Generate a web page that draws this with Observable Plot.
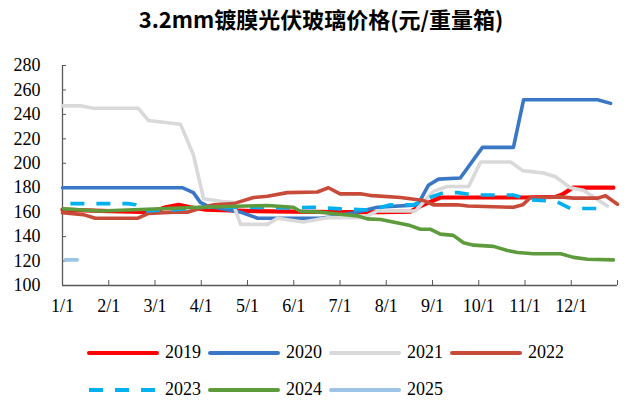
<!DOCTYPE html>
<html>
<head>
<meta charset="utf-8">
<script src="https://cdn.jsdelivr.net/npm/d3@7"></script>
<script src="https://cdn.jsdelivr.net/npm/@observablehq/plot@0.6"></script>
<style>
  html, body { margin: 0; padding: 0; background: #fff; }
  #wrap { position: relative; width: 629px; height: 400px; overflow: hidden; }
  #title { position: absolute; left: 0; top: 4px; width: 642px; text-align: center;
    font-family: "Noto Sans CJK SC", sans-serif; font-weight: bold; font-size: 22px; line-height: 28px; color: #000; }
  #chart { position: absolute; left: 0; top: 35px; }
  #legend { position: absolute; left: 87px; top: 334px; font-family: "Liberation Serif", "Times New Roman", serif; font-size: 18px; color: #000; }
  .row { display: flex; height: 37px; align-items: center; }
  .item { display: flex; align-items: center; width: 121px; }
  .item span { margin-left: 6px; }
</style>
</head>
<body>
<div id="wrap">
  <div id="title">3.2mm镀膜光伏玻璃价格(元/重量箱)</div>
  <div id="chart"></div>
  <div id="legend"></div>
</div>
<script>
// x = months since 1/1 (0 = 1/1, 11 = 12/1), y = price (元/重量箱)
const years = ["2019", "2020", "2021", "2022", "2023", "2024", "2025"];
const colors = ["#FF0000", "#3A78C6", "#D9D9D9", "#C84B3A", "#00B0F0", "#5E9B3C", "#9DC3E6"];
const monthTicks = [0, 1, 2, 3, 4, 5, 6, 7, 8, 9, 10, 11, 12];
const monthLabels = ["1/1", "2/1", "3/1", "4/1", "5/1", "6/1", "7/1", "8/1", "9/1", "10/1", "11/1", "12/1", ""];
const yTicks = [100, 120, 140, 160, 180, 200, 220, 240, 260, 280];

const s2019 = [[0,162],[0.82,161],[1.92,160],[2.23,164],[2.51,166],[2.77,164],[3.09,162],[3.94,161],[4.95,160.5],[5.95,160],[6.92,160],[7.52,160.5],[7.74,165],[8.17,172],[8.97,172],[9.99,172],[10.66,172.5],[10.83,175],[11.03,180],[11.91,180]];
const s2020 = [[0,180],[2.59,180],[2.83,176],[2.98,168],[3.14,165],[3.85,160],[4.22,155],[5.58,155],[5.86,156.5],[6.23,159],[6.81,164],[7.68,166],[7.91,182],[8.13,187],[8.6,188],[9.08,213],[9.75,213],[9.97,252],[11.57,252],[11.85,249]];
const s2021 = [[0,247],[0.39,247],[0.67,245],[1.64,245],[1.86,235],[2.55,232],[2.83,207],[3.05,171],[3.42,169],[3.68,168],[3.85,150],[4.43,150],[4.65,155],[5.2,152],[5.73,155.5],[6.51,155.5],[6.81,161],[7.63,161],[8.02,177],[8.32,181],[8.78,181],[9.04,201],[9.69,201],[9.95,194],[10.4,192],[10.66,189],[10.98,180],[11.26,178],[11.78,165]];
const s2022 = [[0,159.5],[0.45,158],[0.71,155],[1.62,155],[1.86,159],[2.4,160],[2.7,160],[3.05,164],[3.27,166],[3.7,167],[4.13,172],[4.43,173],[4.86,176],[5.51,176.5],[5.75,180],[6.0,175],[6.44,175],[6.7,173.5],[7.31,172],[7.81,169.5],[8.02,166],[8.54,166],[8.76,165],[9.75,164],[9.95,166],[10.12,172],[10.77,172.5],[11.05,171.5],[11.57,171.5],[11.74,173.5],[12.0,166.5]];
const s2023 = [[0.17,167],[1.42,167],[1.58,166],[1.75,161],[2.44,162],[2.98,164],[3.94,164],[4.93,163.5],[5.43,164],[6.01,162.7],[6.66,161.7],[7.09,166],[7.59,166],[7.9,171.5],[8.24,176],[8.54,176],[8.89,174],[9.75,174],[10.12,170],[10.66,169],[10.98,163],[11.7,163]];
const s2024 = [[0.02,162.7],[0.82,161],[2.98,164],[4.43,165.5],[4.99,164],[5.15,160.5],[5.58,160],[5.95,158.5],[6.38,157],[6.59,154.5],[6.88,154],[7.52,149],[7.74,146],[7.96,146],[8.17,142],[8.45,141],[8.67,135],[8.89,133],[9.32,132],[9.62,128.6],[9.84,127],[10.18,126],[10.77,126],[11.05,123],[11.35,121.5],[11.91,121]];
const s2025 = [[0.06,121],[0.32,121]];

const seriesList = [s2019, s2020, s2021, s2022, s2023, s2024, s2025];
const rows = [];
seriesList.forEach((s, i) => s.forEach(([m, v]) => rows.push({year: years[i], m, v})));

const font = '"Liberation Serif", "Times New Roman", serif';
const axisColor = "#595959";

const lineMarks = years.map((yr, i) =>
  Plot.line(rows.filter(d => d.year === yr), {
    x: "m", y: "v", stroke: colors[i],
    strokeWidth: yr === "2019" ? 4.2 : 3.6,
    strokeLinejoin: "round",
    strokeLinecap: yr === "2023" ? "butt" : "round",
    strokeDasharray: yr === "2023" ? "14,12" : null
  })
);

const chart = Plot.plot({
  width: 629,
  height: 295,
  marginLeft: 62,
  marginRight: 12,
  marginTop: 30,
  marginBottom: 45,
  style: {fontFamily: font, fontSize: "18px", color: "#000", background: "transparent", overflow: "visible"},
  x: {domain: [0, 12]},
  y: {domain: [100, 280]},
  marks: [
    Plot.axisY({ticks: yTicks, tickSize: -4, tickPadding: 26, stroke: axisColor, fill: "#000", fontSize: 18, label: null}),
    Plot.axisX({ticks: monthTicks, tickSize: -5, tickPadding: 19, stroke: axisColor, fill: "#000", fontSize: 18, label: null,
      tickFormat: d => monthLabels[d]}),
    Plot.ruleX([0], {stroke: axisColor, strokeWidth: 1.3}),
    Plot.ruleY([100], {stroke: axisColor, strokeWidth: 1.3}),
    ...lineMarks
  ]
});
document.getElementById("chart").appendChild(chart);

// legend
const legend = document.getElementById("legend");
const legendRows = [[0, 1, 2, 3], [4, 5, 6]];
legendRows.forEach(r => {
  const row = document.createElement("div");
  row.className = "row";
  r.forEach(i => {
    const item = document.createElement("div");
    item.className = "item";
    const dash = years[i] === "2023" ? 'stroke-dasharray="14,12" stroke-linecap="butt"' : 'stroke-linecap="round"';
    item.innerHTML = `<svg width="72" height="10"><line x1="2" x2="70" y1="5" y2="5" stroke="${colors[i]}" stroke-width="4" ${dash}/></svg><span>${years[i]}</span>`;
    row.appendChild(item);
  });
  legend.appendChild(row);
});
</script>
</body>
</html>
